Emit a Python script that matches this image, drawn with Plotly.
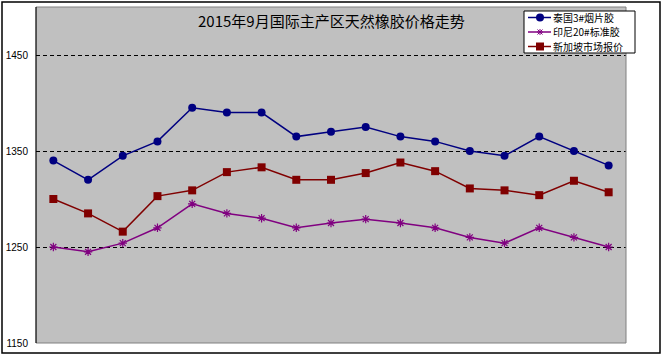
import plotly.graph_objects as go

# ---- data ----
points = list(range(1, 18))
thai_rss3 = [1340, 1320, 1345, 1360, 1395, 1390, 1390, 1365, 1370, 1375,
             1365, 1360, 1350, 1345, 1365, 1350, 1335]
indo_sir20 = [1250, 1245, 1254, 1270, 1295, 1285, 1280, 1270, 1275, 1279,
              1275, 1270, 1260, 1254, 1270, 1260, 1250]
singapore = [1300, 1285, 1266, 1303, 1309, 1328, 1333, 1320, 1320, 1327,
             1338, 1329, 1311, 1309, 1304, 1319, 1307]
series_names = ["泰国3#烟片胶", "印尼20#标准胶", "新加坡市场报价"]
y_ticks = [1150, 1250, 1350, 1450]
title_text = "2015年9月国际主产区天然橡胶价格走势"

# ---- styles ----
BLUE = "#000080"
PURPLE = "#800080"
RED = "#800000"

W, H = 662, 357
L, R, T, B = 36, 36, 7, 14
PW, PH = W - L - R, H - T - B


def px(xp):
    return (xp - L) / PW


def py(yp):
    return 1 - (yp - T) / PH


fig = go.Figure()
fig.add_trace(go.Scatter(x=points, y=thai_rss3, name=series_names[0], mode="lines+markers",
                         line=dict(color=BLUE, width=1.5),
                         marker=dict(symbol="circle", size=8, color=BLUE)))
fig.add_trace(go.Scatter(x=points, y=indo_sir20, name=series_names[1], mode="lines+markers",
                         line=dict(color=PURPLE, width=1.5),
                         marker=dict(symbol="asterisk", size=7, color=PURPLE,
                                     line=dict(color=PURPLE, width=1.2))))
fig.add_trace(go.Scatter(x=points, y=singapore, name=series_names[2], mode="lines+markers",
                         line=dict(color=RED, width=1.5),
                         marker=dict(symbol="square", size=8, color=RED)))

shapes = []
# plot-area border (grey) top, right, bottom
for x0, y0, x1, y1 in [(0, 1, 1, 1), (1, 0, 1, 1), (0, 0, 1, 0)]:
    shapes.append(dict(type="line", xref="paper", yref="paper", x0=x0, y0=y0, x1=x1, y1=y1,
                       line=dict(color="#808080", width=1), layer="above"))
# left axis line
shapes.append(dict(type="line", xref="paper", yref="paper", x0=0, y0=0, x1=0, y1=1,
                   line=dict(color="black", width=1.2), layer="above"))
# outer chart border
shapes.append(dict(type="rect", xref="paper", yref="paper",
                   x0=px(2), x1=px(660), y0=py(353), y1=py(2),
                   line=dict(color="black", width=1.5), layer="above"))

# manual legend box
shapes.append(dict(type="rect", xref="paper", yref="paper",
                   x0=px(524), x1=px(635), y0=py(53), y1=py(11),
                   fillcolor="white", line=dict(color="black", width=1), layer="above"))
legend_rows = [17.5, 32, 46.5]
legend_colors = [BLUE, PURPLE, RED]
annotations = []
for i, (yy, col) in enumerate(zip(legend_rows, legend_colors)):
    shapes.append(dict(type="line", xref="paper", yref="paper", x0=px(528), x1=px(551),
                       y0=py(yy), y1=py(yy), line=dict(color=col, width=1.5), layer="above"))
    if i == 0:
        shapes.append(dict(type="circle", xref="paper", yref="paper", xsizemode="pixel",
                           ysizemode="pixel", xanchor=px(540), yanchor=py(yy),
                           x0=-4, x1=4, y0=-4, y1=4, fillcolor=col,
                           line=dict(color=col, width=0), layer="above"))
    elif i == 2:
        shapes.append(dict(type="rect", xref="paper", yref="paper", xsizemode="pixel",
                           ysizemode="pixel", xanchor=px(540), yanchor=py(yy),
                           x0=-4, x1=4, y0=-4, y1=4, fillcolor=col,
                           line=dict(color=col, width=0), layer="above"))
    else:
        for a, b in [((-3, 0), (3, 0)), ((0, -3), (0, 3)), ((-2.5, -2.5), (2.5, 2.5)),
                     ((-2.5, 2.5), (2.5, -2.5))]:
            shapes.append(dict(type="line", xref="paper", yref="paper", xsizemode="pixel",
                               ysizemode="pixel", xanchor=px(540), yanchor=py(yy),
                               x0=a[0], y0=a[1], x1=b[0], y1=b[1],
                               line=dict(color=col, width=1), layer="above"))
    annotations.append(dict(text=series_names[i], xref="paper", yref="paper",
                            x=px(552), y=py(yy), xanchor="left", yanchor="middle",
                            showarrow=False, borderpad=0,
                            font=dict(family="Noto Sans CJK SC", size=10, color="black")))

annotations.append(dict(text=title_text, xref="paper", yref="paper", x=0.5, y=py(21),
                        xanchor="center", yanchor="middle", showarrow=False,
                        font=dict(family="Noto Sans CJK SC", size=15, color="black")))

fig.update_layout(
    width=W, height=H,
    margin=dict(l=L, r=R, t=T, b=B, pad=0),
    paper_bgcolor="white",
    plot_bgcolor="#C0C0C0",
    showlegend=False,
    shapes=shapes,
    annotations=annotations,
    xaxis=dict(range=[0.5, 17.5], showticklabels=False, showgrid=False, zeroline=False,
               ticks="", showline=False),
    yaxis=dict(range=[1150, 1500], tickvals=y_ticks, ticktext=[str(v) for v in y_ticks],
               showgrid=True, gridcolor="black", gridwidth=1, griddash="4px,3px",
               zeroline=False, showline=False, ticks="", ticklabelstandoff=7,
               tickfont=dict(family="Liberation Sans", size=10, color="black")),
)

fig.write_html("out.html", config={"displayModeBar": False},
               post_script="document.body.style.margin='0';document.body.style.padding='0';")
